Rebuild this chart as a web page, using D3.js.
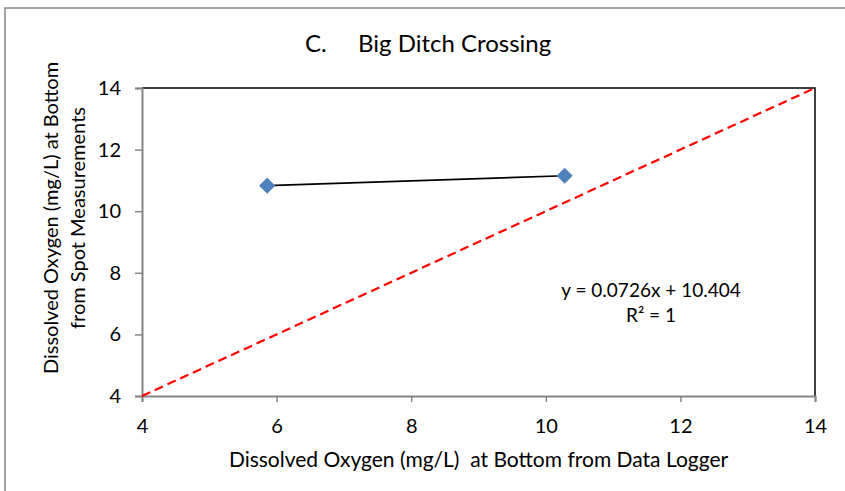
<!DOCTYPE html>
<html>
<head>
<meta charset="utf-8">
<script src="https://cdn.jsdelivr.net/npm/d3@7"></script>
<style>
  body { margin: 0; background: #fff; }
  text { font-family: Lato, "Noto Sans", sans-serif; fill: #000; white-space: pre; }
</style>
</head>
<body>
<div id="chart"></div>
<script>
// Data
const loggerDO = [5.86, 10.28];   // x: data logger
const spotDO = [10.83, 11.15];    // y: spot measurements
const xTicks = [4, 6, 8, 10, 12, 14];
const yTicks = [4, 6, 8, 10, 12, 14];
const oneToOne = [4, 14];
const trendText = ["y = 0.0726x + 10.404", "R\u00b2 = 1"];

const width = 845, height = 491;
const margin = { left: 142, right: 30, top: 88, bottom: 96 };

const svg = d3.select("#chart")
  .append("svg")
  .attr("width", width)
  .attr("height", height);

// Outer chart border (runs off the right and bottom edges)
svg.append("rect")
  .attr("x", 5).attr("y", 8)
  .attr("width", width + 10).attr("height", height + 10)
  .attr("fill", "none")
  .attr("stroke", "#868686")
  .attr("stroke-width", 1.5);

const x = d3.scaleLinear().domain([4, 14]).range([margin.left, width - margin.right]);
const y = d3.scaleLinear().domain([4, 14]).range([height - margin.bottom + 1, margin.top]);

// Top and right frame of the plot area
svg.append("path")
  .attr("d", `M${x(4)},${y(14)}H${x(14)}V${y(4)}`)
  .attr("fill", "none")
  .attr("stroke", "#000")
  .attr("stroke-width", 1.5);

// Axes
const xAxis = svg.append("g")
  .attr("transform", `translate(0,${y(4)})`)
  .call(d3.axisBottom(x).tickValues(xTicks).tickSize(6).tickPadding(17));

const yAxis = svg.append("g")
  .attr("transform", `translate(${x(4)},0)`)
  .call(d3.axisLeft(y).tickValues(yTicks).tickSize(7).tickPadding(14));

[xAxis, yAxis].forEach(g => {
  g.select(".domain").attr("stroke", "#868686").attr("stroke-width", 2);
  g.selectAll(".tick line").attr("stroke", "#868686").attr("stroke-width", 1.5);
  g.selectAll(".tick text")
    .style("font-size", "20px")
    .style("font-family", "Lato, 'Noto Sans', sans-serif")
    .attr("fill", "#000");
});

// 1:1 line
svg.append("line")
  .attr("x1", x(oneToOne[0])).attr("y1", y(oneToOne[0]))
  .attr("x2", x(oneToOne[1])).attr("y2", y(oneToOne[1]))
  .attr("stroke", "#ff0000")
  .attr("stroke-width", 2.2)
  .attr("stroke-dasharray", "9,5");

// Series line
const pts = loggerDO.map((d, i) => [d, spotDO[i]]);
svg.append("path")
  .datum(pts)
  .attr("d", d3.line().x(d => x(d[0])).y(d => y(d[1])))
  .attr("fill", "none")
  .attr("stroke", "#000")
  .attr("stroke-width", 1.6);

// Diamond markers
svg.append("g")
  .selectAll("path")
  .data(pts)
  .enter()
  .append("path")
  .attr("d", d3.symbol().type(d3.symbolSquare).size(130))
  .attr("transform", d => `translate(${x(d[0])},${y(d[1])}) rotate(45)`)
  .attr("fill", "#4f81bd");

// Trend equation
svg.append("g")
  .selectAll("text")
  .data(trendText)
  .enter()
  .append("text")
  .attr("x", 651)
  .attr("y", (d, i) => 297 + i * 25)
  .attr("text-anchor", "middle")
  .attr("font-size", 19)
  .text(d => d);

// Title
const title = svg.append("text")
  .attr("y", 52)
  .attr("font-size", 24);
title.append("tspan").attr("x", 305).text("C.");
title.append("tspan").attr("x", 358).text("Big Ditch Crossing");

// Axis titles
svg.append("text")
  .attr("x", (x(4) + x(14)) / 2)
  .attr("y", 467)
  .attr("text-anchor", "middle")
  .attr("font-size", 21)
  .text("Dissolved Oxygen (mg/L)  at Bottom from Data Logger");

const yTitle = svg.append("text")
  .attr("transform", "translate(0,218) rotate(-90)")
  .attr("text-anchor", "middle")
  .attr("font-size", 20);
yTitle.append("tspan").attr("x", 0).attr("y", 58).text("Dissolved Oxygen (mg/L) at Bottom");
yTitle.append("tspan").attr("x", 0).attr("y", 85).text("from Spot Measurements");
</script>
</body>
</html>
